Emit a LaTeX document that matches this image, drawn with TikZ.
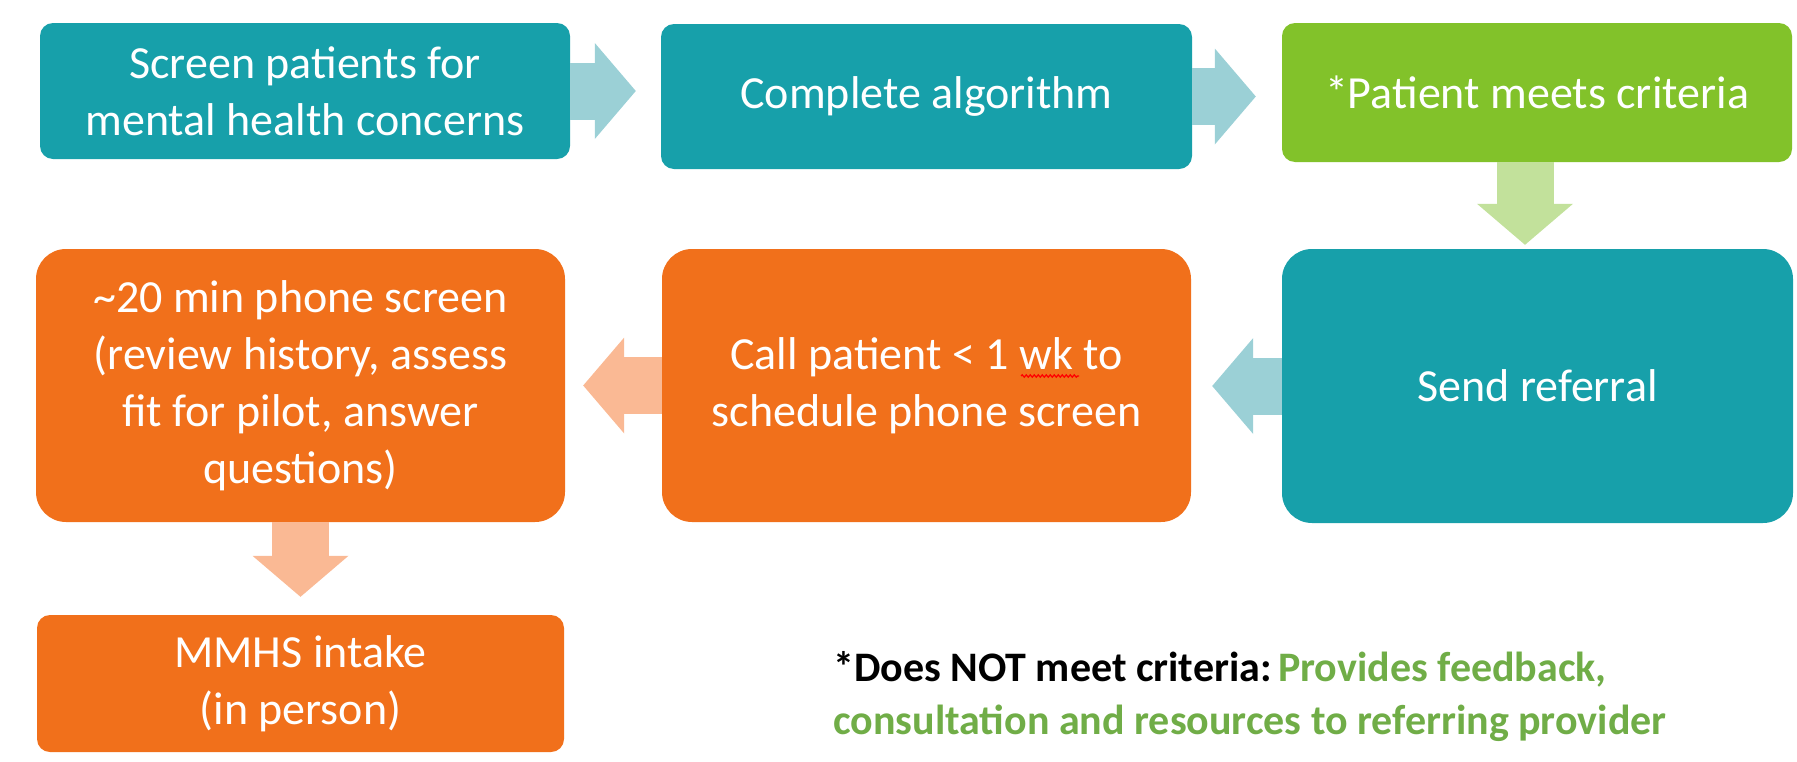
\documentclass[tikz,border=0pt]{standalone}
\usepackage{fontspec}
\setmainfont{Carlito}
\usetikzlibrary{arrows.meta,calc,decorations.pathmorphing}
\definecolor{tealbox}{RGB}{23,160,170}
\definecolor{greenbox}{RGB}{130,194,42}
\definecolor{orangebox}{RGB}{241,112,27}
\definecolor{tealarrow}{RGB}{155,208,214}
\definecolor{greenarrow}{RGB}{194,225,155}
\definecolor{orangearrow}{RGB}{250,185,148}
\definecolor{notegreen}{RGB}{112,173,71}
\tikzset{
  boxsmall/.style={rounded corners=13pt, text=white, inner sep=0pt, align=center,
    font=\fontsize{46}{57}\selectfont},
  boxbig/.style={rounded corners=30pt, text=white, inner sep=0pt, align=center,
    font=\fontsize{46}{57}\selectfont},
  blk/.style={line width=57pt, -{Triangle[length=41pt,width=96pt,line width=0pt]}},
}
\begin{document}
\begin{tikzpicture}[x=1pt,y=-1pt]
\useasboundingbox (0,0) rectangle (1797,761);
% row 1
\node[boxsmall, fill=tealbox, minimum width=530pt, minimum height=136pt] (b1) at (305,91)
  {Screen patients for\\mental health concerns};
\node[boxsmall, fill=tealbox, minimum width=531pt, minimum height=145pt] (b2) at (926.5,96.5)
  {Complete algorithm};
\node[boxsmall, fill=greenbox, minimum width=510pt, minimum height=139pt] (b3) at (1537,92.5)
  {*Patient meets criteria};
% row 2
\node[boxbig, fill=tealbox, minimum width=511pt, minimum height=274pt] (b5) at (1537.5,386)
  {Send referral};
\node[boxbig, fill=orangebox, minimum width=529pt, minimum height=273pt] (b6) at (926.5,385.5)
  {Call patient < 1 wk to\\schedule phone screen};
\node[boxbig, fill=orangebox, minimum width=529pt, minimum height=273pt] (b7) at (300.5,385.5)
  {\textasciitilde20 min phone screen\\(review history, assess\\fit for pilot, answer\\questions)};
% row 3
\node[boxsmall, fill=orangebox, minimum width=527pt, minimum height=137pt] (b8) at (300.5,683.5)
  {MMHS intake\\(in person)};
% note
\node[anchor=west, inner sep=0pt, align=left, font=\bfseries\fontsize{42}{53}\selectfont] (note) at (833,697)
  {*Does NOT meet criteria:\hspace{-0.15em} \textcolor{notegreen}{Provides feedback,}\\
   \textcolor{notegreen}{consultation and resources to referring provider}};
% arrows
\draw[blk, tealarrow] (b1.east) -- ($(b1.east -| b2.west)+(-25,0)$);
\draw[blk, tealarrow] (b2.east) -- ($(b2.east -| b3.west)+(-26,0)$);
\draw[blk, greenarrow] ($(b3.south)+(-12,0)$) -- ($(b3.south |- b5.north)+(-12,-4)$);
\draw[blk, tealarrow] (b5.west) -- ($(b5.west -| b6.east)+(21,0)$);
\draw[blk, orangearrow] (b6.west) -- ($(b6.west -| b7.east)+(18,0)$);
\draw[blk, orangearrow] (b7.south) -- ($(b7.south |- b8.north)+(0,-18)$);
% spell-check wave under "wk"
\draw[red, line width=1.2pt, decorate, decoration={snake, amplitude=1.2pt, segment length=4pt}]
  ($(b6.center)+(94.5,-9.5)$) -- ($(b6.center)+(152.5,-9.5)$);
\end{tikzpicture}
\end{document}
